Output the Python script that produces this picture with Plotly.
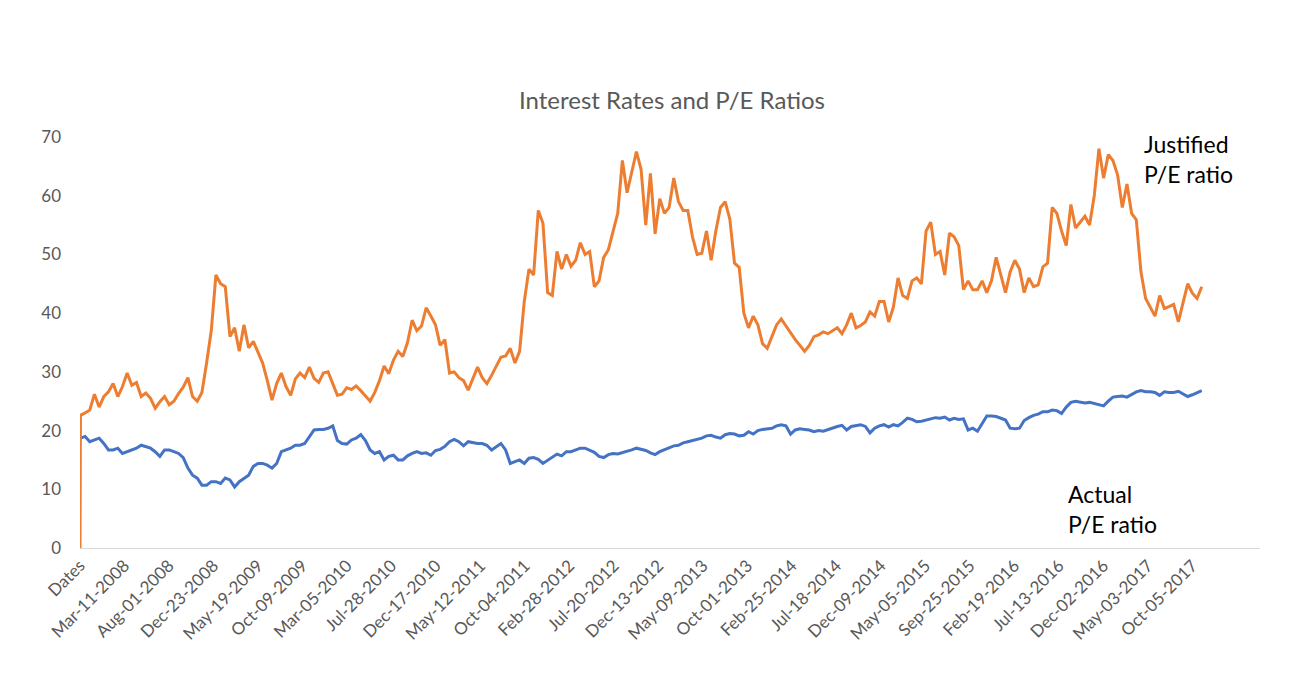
import plotly.graph_objects as go

# tick labels, one every 100 rows of the sheet (row 0 is the header "Dates")
tick_labels = ["Dates", "Mar-11-2008", "Aug-01-2008", "Dec-23-2008", "May-19-2009",
               "Oct-09-2009", "Mar-05-2010", "Jul-28-2010", "Dec-17-2010", "May-12-2011",
               "Oct-04-2011", "Feb-28-2012", "Jul-20-2012", "Dec-13-2012", "May-09-2013",
               "Oct-01-2013", "Feb-25-2014", "Jul-18-2014", "Dec-09-2014", "May-05-2015",
               "Sep-25-2015", "Feb-19-2016", "Jul-13-2016", "Dec-02-2016", "May-03-2017",
               "Oct-05-2017"]
tick_rows = [100 * i for i in range(len(tick_labels))]

# justified P/E (header row reads as 0), read off roughly every 10.5 rows
justified_pe = [
    0, 22.6, 23.0, 23.5, 26.2, 24.0, 25.8, 26.6, 28.0, 25.8, 27.5,
    29.8, 27.7, 28.2, 25.8, 26.4, 25.5, 23.8, 24.9, 25.8, 24.4,
    25.0, 26.3, 27.4, 29.0, 25.8, 25.0, 26.5, 31.5, 37.0, 46.5,
    45.0, 44.5, 36.0, 37.5, 33.5, 38.0, 34.1, 35.2, 33.5, 31.5,
    28.5, 25.2, 28.0, 29.8, 27.5, 26.0, 28.8, 29.8, 29.0, 30.8,
    28.9, 28.2, 29.8, 30.0, 28.0, 26.0, 26.2, 27.3, 27.0, 27.6,
    26.8, 25.9, 25.0, 26.5, 28.5, 31.0, 29.7, 32.0, 33.5, 32.6,
    35.0, 38.8, 37.0, 37.8, 40.9, 39.5, 38.0, 34.5, 35.5, 29.8,
    30.0, 29.0, 28.5, 26.9, 29.0, 30.8, 29.0, 28.0, 29.4, 31.0,
    32.5, 32.7, 34.0, 31.5, 33.5, 42.0, 47.5, 46.5, 57.5, 55.3,
    43.5, 43.0, 50.5, 47.5, 50.0, 48.0, 49.0, 52.0, 50.0, 50.5,
    44.5, 45.5, 49.5, 50.8, 54.0, 57.0, 66.0, 60.5, 64.0, 67.5,
    64.5, 55.0, 63.8, 53.5, 59.5, 57.0, 58.0, 63.0, 59.0, 57.5,
    57.5, 53.0, 50.0, 50.2, 54.0, 49.0, 54.0, 58.0, 59.0, 56.0,
    48.5, 47.8, 40.0, 37.5, 39.5, 38.0, 34.8, 34.0, 36.0, 38.0,
    39.0, 37.8, 36.5, 35.5, 34.5, 33.5, 34.5, 36.0, 36.3, 36.8,
    36.5, 37.0, 37.5, 36.5, 38.0, 40.0, 37.5, 37.9, 38.5, 40.2,
    39.5, 42.0, 42.0, 38.5, 41.0, 46.0, 43.0, 42.5, 45.5, 46.0,
    45.0, 54.0, 55.5, 50.0, 50.5, 46.5, 53.6, 53.0, 51.5, 44.0,
    45.5, 44.0, 44.0, 45.5, 43.5, 45.5, 49.5, 46.5, 43.5, 47.0,
    49.0, 47.5, 43.5, 46.0, 44.5, 44.8, 47.9, 48.5, 58.0, 57.0,
    54.0, 51.5, 58.5, 54.5, 55.5, 56.5, 55.0, 60.0, 68.0, 63.0,
    67.0, 66.0, 63.5, 58.0, 62.0, 57.0, 55.9, 47.0, 42.5, 41.0,
    39.5, 43.0, 40.8, 41.1, 41.5, 38.5, 41.5, 45.0, 43.4, 42.5,
    44.5,
]

# actual P/E (blank in the header row)
actual_pe = [
    None, 18.7, 19.0, 18.1, 18.4, 18.7, 17.8, 16.7, 16.7, 17.0, 16.1,
    16.4, 16.7, 17.0, 17.5, 17.3, 17.0, 16.4, 15.6, 16.7, 16.7,
    16.4, 16.1, 15.4, 13.6, 12.4, 11.9, 10.7, 10.7, 11.3, 11.3,
    11.0, 11.9, 11.6, 10.4, 11.3, 11.9, 12.4, 13.9, 14.4, 14.4,
    14.1, 13.6, 14.4, 16.4, 16.7, 17.0, 17.5, 17.5, 17.8, 19.0,
    20.1, 20.2, 20.2, 20.4, 20.8, 18.3, 17.8, 17.7, 18.4, 18.7,
    19.3, 18.3, 16.7, 16.1, 16.4, 15.0, 15.6, 15.8, 15.0, 15.0,
    15.7, 16.1, 16.4, 16.1, 16.2, 15.8, 16.6, 16.8, 17.3, 18.1,
    18.5, 18.1, 17.4, 18.1, 17.9, 17.8, 17.8, 17.5, 16.7, 17.3,
    17.8, 16.7, 14.4, 14.7, 15.0, 14.4, 15.3, 15.4, 15.1, 14.4,
    14.9, 15.4, 16.0, 15.7, 16.4, 16.4, 16.7, 17.0, 17.0, 16.7,
    16.3, 15.6, 15.4, 15.9, 16.1, 16.0, 16.2, 16.5, 16.7, 17.0,
    16.8, 16.6, 16.2, 15.9, 16.4, 16.7, 17.0, 17.4, 17.5, 17.9,
    18.1, 18.3, 18.4, 18.7, 19.1, 19.2, 18.9, 18.7, 19.3, 19.5,
    19.4, 19.1, 19.2, 19.8, 19.4, 20.0, 20.2, 20.3, 20.4, 20.8,
    21.0, 20.8, 19.4, 20.1, 20.3, 20.2, 20.1, 19.8, 20.0, 19.9,
    20.2, 20.5, 20.7, 20.9, 20.1, 20.7, 20.9, 21.0, 20.7, 19.6,
    20.4, 20.8, 21.0, 20.6, 21.0, 20.8, 21.4, 22.1, 21.9, 21.5,
    21.6, 21.8, 22.0, 22.2, 22.1, 22.3, 21.8, 22.1, 21.9, 22.0,
    20.1, 20.4, 19.9, 21.1, 22.5, 22.5, 22.4, 22.1, 21.8, 20.4,
    20.3, 20.4, 21.7, 22.2, 22.6, 22.8, 23.2, 23.2, 23.5, 23.4,
    22.9, 24.0, 24.8, 25.0, 24.9, 24.7, 24.8, 24.6, 24.3, 24.2,
    25.0, 25.7, 25.8, 25.9, 25.7, 26.1, 26.6, 26.8, 26.6, 26.6,
    26.5, 26.0, 26.6, 26.5, 26.5, 26.7, 26.2, 25.8, 26.1, 26.5,
    26.8,
]

# sheet row of each sample: header row 0, then rows 1, 11.5, 22, ...
rows = [0] + [1 + 10.5 * k for k in range(len(justified_pe) - 1)]

font = "Lato, 'Open Sans', sans-serif"
grey = "#595959"

fig = go.Figure()
fig.add_trace(go.Scatter(x=rows, y=actual_pe, mode="lines", name="Actual P/E ratio",
                         line=dict(color="#4472C4", width=3)))
fig.add_trace(go.Scatter(x=rows, y=justified_pe, mode="lines", name="Justified P/E ratio",
                         line=dict(color="#ED7D31", width=3)))

# the page adds an 8px body margin, so the figure is 8px smaller on each axis
fig.update_layout(
    width=1302, height=688,
    paper_bgcolor="white", plot_bgcolor="white",
    showlegend=False,
    margin=dict(l=72, r=50, t=129, b=148),
    font=dict(family=font, color=grey),
    title=dict(text="Interest Rates and P/E Ratios", x=0.51, xanchor="center",
               y=0.865, yanchor="middle", font=dict(size=24, color=grey)),
    xaxis=dict(range=[0, 2652], tickmode="array", tickvals=tick_rows, ticktext=tick_labels,
               tickangle=-45, tickfont=dict(size=17, color=grey), showgrid=False,
               zeroline=False, showline=True, linecolor="#d9d9d9", linewidth=1, ticks="",
               automargin=False),
    yaxis=dict(range=[0, 70], tickvals=list(range(0, 71, 10)), showgrid=False,
               zeroline=False, showline=False, ticks="", ticklabelstandoff=18,
               tickfont=dict(size=17, color=grey), automargin=False),
    annotations=[
        dict(text="Justified<br>P/E ratio", x=2387, y=66.3, xref="x", yref="y",
             xanchor="left", yanchor="middle", align="left", showarrow=False,
             font=dict(size=23, color="black")),
        dict(text="Actual<br>P/E ratio", x=2216, y=6.6, xref="x", yref="y",
             xanchor="left", yanchor="middle", align="left", showarrow=False,
             font=dict(size=23, color="black")),
    ],
)

fig.write_html("out.html")
